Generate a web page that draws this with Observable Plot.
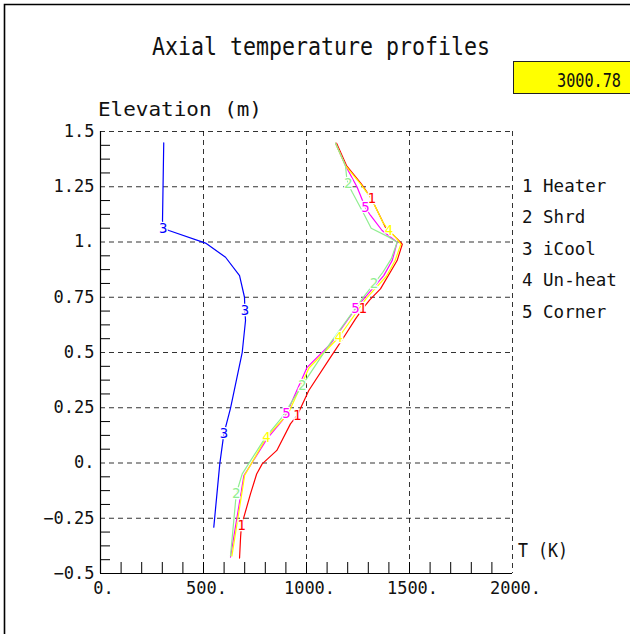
<!DOCTYPE html>
<html>
<head>
<meta charset="utf-8">
<script src="https://cdn.jsdelivr.net/npm/d3@7"></script>
<script src="https://cdn.jsdelivr.net/npm/@observablehq/plot@0.6"></script>
<style>
  html, body { margin: 0; padding: 0; background: #fff; }
  #chart { width: 630px; height: 634px; overflow: hidden; }
</style>
</head>
<body>
<div id="chart"></div>
<script>
// Texts
const chartTitle = "Axial temperature profiles";
const yTitle = "Elevation (m)";
const xTitle = "T (K)";
const timeStamp = "3000.78";

// Series
const seriesNames = ["Heater", "Shrd", "iCool", "Un-heat", "Corner"];
const seriesColors = ["#ff0000", "#90ee90", "#0000ff", "#ffff00", "#ff00ff"];

// Profiles: [temperature (K), elevation (m)]
const heater = [
  [1146, 1.447], [1194, 1.346], [1266, 1.263], [1316, 1.195], [1383, 1.067],
  [1432, 1.022], [1465, 0.99], [1440, 0.916], [1359, 0.788], [1307, 0.738],
  [1273, 0.698], [1238, 0.652], [1181, 0.569], [1117, 0.479], [1011, 0.328],
  [955, 0.215], [922, 0.177], [856, 0.057], [785, -0.004], [758, -0.05],
  [728, -0.14], [696, -0.245], [684, -0.283], [680, -0.336], [675, -0.43]
];
const shroud = [
  [1141, 1.447], [1189, 1.346], [1195, 1.293], [1202, 1.263], [1222, 1.225],
  [1278, 1.128], [1314, 1.062], [1400, 1.022], [1440, 0.999], [1412, 0.925],
  [1370, 0.862], [1327, 0.811], [1280, 0.755], [1117, 0.545], [979, 0.351],
  [880, 0.205], [800, 0.115], [688, -0.049], [659, -0.139], [647, -0.26],
  [631, -0.42]
];
const innerCool = [
  [307, 1.449], [301, 1.097], [304, 1.062], [332, 1.052], [510, 0.995],
  [607, 0.931], [675, 0.848], [699, 0.75], [701, 0.69], [704, 0.645],
  [688, 0.501], [631, 0.247], [599, 0.133], [579, -0.004], [550, -0.29]
];
const unheated = [
  [1141, 1.447], [1189, 1.346], [1262, 1.263], [1316, 1.195], [1370, 1.09],
  [1400, 1.052], [1432, 1.022], [1458, 0.99], [1430, 0.916], [1388, 0.845],
  [1290, 0.745], [1157, 0.569], [1012, 0.43], [912, 0.225], [806, 0.117],
  [700, -0.055], [638, -0.42]
];
const corner = [
  [1141, 1.447], [1189, 1.346], [1246, 1.248], [1286, 1.155], [1311, 1.12],
  [1367, 1.052], [1440, 0.999], [1416, 0.916], [1375, 0.848], [1278, 0.743],
  [1238, 0.698], [1117, 0.539], [1003, 0.433], [903, 0.223], [882, 0.192],
  [809, 0.11], [696, -0.057], [631, -0.426]
];

// Curve number tags placed along each profile
const heaterTags = [[1316, 1.195], [1273, 0.698], [955, 0.215], [684, -0.283]];
const shroudTags = [[1202, 1.263], [1327, 0.811], [979, 0.351], [659, -0.139]];
const innerCoolTags = [[304, 1.062], [701, 0.69], [599, 0.133]];
const unheatedTags = [[1400, 1.052], [1157, 0.569], [806, 0.117]];
const cornerTags = [[1286, 1.155], [1238, 0.698], [903, 0.223]];

// Axes
const xTicks = [0, 500, 1000, 1500, 2000];
const xTickLabels = ["0.", "500.", "1000.", "1500.", "2000."];
const yTicks = [-0.5, -0.25, 0, 0.25, 0.5, 0.75, 1, 1.25, 1.5];
const yTickLabels = ["\u22120.5", "\u22120.25", "0.", "0.25", "0.5", "0.75", "1.", "1.25", "1.5"];
const xGrid = [500, 1000, 1500, 2000];
const yGrid = [-0.25, 0, 0.25, 0.5, 0.75, 1, 1.25, 1.5];

const profiles = [heater, shroud, innerCool, unheated, corner];
const tags = [heaterTags, shroudTags, innerCoolTags, unheatedTags, cornerTags];
// Stacking order of the profile lines (series indices, bottom first)
const drawOrder = [0, 4, 3, 1, 2];

const xMinor = d3.range(100, 2000, 100);
const yMinor = d3.range(0, 32).map(i => -0.5 + i * 0.0625).filter((v, i) => i % 4 !== 0);

const xLabelOf = new Map(xTicks.map((v, i) => [v, xTickLabels[i]]));
const yLabelOf = new Map(yTicks.map((v, i) => [v, yTickLabels[i]]));

const W = 630, H = 634;
const mL = 100, mR = 118, mT = 131, mB = 61;
const font = "'DejaVu Sans Mono', 'Liberation Mono', monospace";

const plot = Plot.plot({
  width: W,
  height: H,
  marginLeft: mL,
  marginRight: mR,
  marginTop: mT,
  marginBottom: mB,
  x: {domain: [0, 2000]},
  y: {domain: [-0.5, 1.5]},
  style: {fontFamily: font, fontSize: "17px", background: "#fff", color: "#000", overflow: "visible"},
  marks: [
    Plot.gridX({ticks: xGrid, stroke: "#000", strokeOpacity: 0.8, strokeDasharray: "5,4"}),
    Plot.gridY({ticks: yGrid, stroke: "#000", strokeOpacity: 0.8, strokeDasharray: "5,4"}),
    Plot.tickX(xMinor, {x: d => d, insetTop: H - mT - mB - 11, stroke: "#000"}),
    Plot.tickY(yMinor, {y: d => d, insetRight: W - mL - mR - 10, stroke: "#000"}),
    Plot.ruleX([0], {stroke: "#000", strokeWidth: 1.2}),
    Plot.ruleY([-0.5], {stroke: "#000", strokeWidth: 1.2}),
    Plot.axisX({ticks: xTicks, tickSize: 0, tickPadding: 8, dx: 3, label: null,
      tickFormat: d => xLabelOf.get(d), fill: "#111"}),
    Plot.axisY({ticks: yTicks, tickSize: 0, tickPadding: 6, label: null,
      tickFormat: d => yLabelOf.get(d), fill: "#111"}),
    ...drawOrder.map(i => Plot.line(profiles[i], {
      x: d => d[0], y: d => d[1], stroke: seriesColors[i], strokeWidth: 1.2
    })),
    ...tags.map((pts, i) => Plot.text(pts, {
      x: d => d[0], y: d => d[1], text: () => String(i + 1),
      fill: seriesColors[i], stroke: "#fff", strokeWidth: 2.5, paintOrder: "stroke",
      fontSize: 14
    }))
  ]
});

document.getElementById("chart").appendChild(plot);

// Page furniture drawn onto the same SVG
const svg = d3.select(plot);

svg.append("path")
  .attr("d", "M4.5,634V4.5H630")
  .attr("fill", "none")
  .attr("stroke", "#000")
  .attr("stroke-width", 1.6);

svg.append("text")
  .attr("x", 321).attr("y", 55)
  .attr("text-anchor", "middle")
  .attr("font-size", 25)
  .attr("textLength", 338)
  .attr("lengthAdjust", "spacingAndGlyphs")
  .attr("fill", "#111")
  .text(chartTitle);

svg.append("rect")
  .attr("x", 513.5).attr("y", 61.5)
  .attr("width", 117).attr("height", 32)
  .attr("fill", "#ffff00")
  .attr("stroke", "#222");

svg.append("text")
  .attr("x", 621).attr("y", 87)
  .attr("text-anchor", "end")
  .attr("font-size", 19)
  .attr("textLength", 64)
  .attr("lengthAdjust", "spacingAndGlyphs")
  .attr("fill", "#111")
  .text(timeStamp);

svg.append("text")
  .attr("x", 98).attr("y", 116)
  .attr("text-anchor", "start")
  .attr("font-size", 19)
  .attr("textLength", 164)
  .attr("lengthAdjust", "spacingAndGlyphs")
  .attr("fill", "#111")
  .text(yTitle);

svg.append("text")
  .attr("x", 518).attr("y", 557)
  .attr("text-anchor", "start")
  .attr("font-size", 19)
  .attr("textLength", 50)
  .attr("lengthAdjust", "spacingAndGlyphs")
  .attr("fill", "#111")
  .text(xTitle);

svg.append("g")
  .attr("text-anchor", "start")
  .selectAll("text")
  .data(seriesNames)
  .join("text")
  .attr("x", 522)
  .attr("y", (d, i) => 191.5 + i * 31.5)
  .attr("font-size", 17.5)
  .attr("fill", "#111")
  .text((d, i) => `${i + 1} ${d}`);
</script>
</body>
</html>
